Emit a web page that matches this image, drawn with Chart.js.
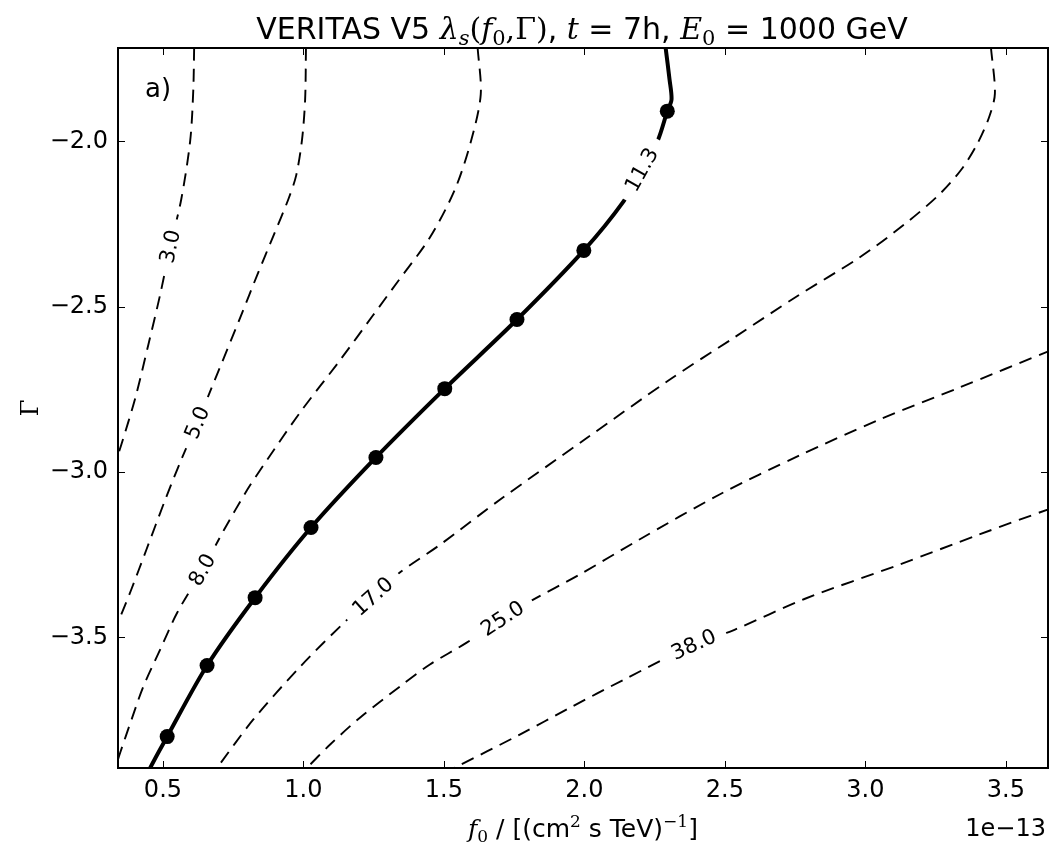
<!DOCTYPE html>
<html>
<head>
<meta charset="utf-8">
<script src="https://cdn.jsdelivr.net/npm/chart.js@4"></script>
<style>
  html, body { margin: 0; padding: 0; background: #fff; }
  canvas { display: block; }
</style>
</head>
<body>
<canvas id="c" width="1064" height="856"></canvas>
<script>
// contour lines of lambda_s in (f0 [1e-13], Gamma)
const lvl3 = [[0.611,-1.717],[0.608,-1.844],[0.597,-1.998],[0.565,-2.176],[0.526,-2.318],[0.490,-2.464],[0.448,-2.615],[0.402,-2.775],[0.352,-2.917],[0.338,-2.953]];
const lvl5 = [[1.009,-1.717],[1.006,-1.874],[0.995,-1.995],[0.974,-2.104],[0.946,-2.176],[0.892,-2.288],[0.839,-2.397],[0.775,-2.533],[0.697,-2.696],[0.622,-2.851],[0.565,-2.963],[0.508,-3.084],[0.441,-3.235],[0.387,-3.356],[0.341,-3.453],[0.327,-3.483]];
const lvl8 = [[1.620,-1.717],[1.631,-1.859],[1.596,-2.001],[1.539,-2.146],[1.450,-2.291],[1.336,-2.424],[1.247,-2.527],[1.132,-2.660],[0.988,-2.820],[0.871,-2.963],[0.800,-3.054],[0.718,-3.174],[0.640,-3.296],[0.551,-3.425],[0.490,-3.537],[0.430,-3.649],[0.388,-3.749],[0.348,-3.848],[0.334,-3.885]];
const lvl11 = [[2.289,-1.717],[2.303,-1.813],[2.310,-1.874],[2.295,-1.909],[2.261,-1.998],[2.204,-2.086],[2.140,-2.181],[1.998,-2.330],[1.760,-2.539],[1.503,-2.748],[1.258,-2.956],[1.027,-3.168],[0.828,-3.380],[0.657,-3.585],[0.515,-3.800],[0.455,-3.894],[0.445,-3.920]];
const lvl17 = [[3.447,-1.717],[3.461,-1.856],[3.440,-1.928],[3.397,-2.010],[3.341,-2.086],[3.263,-2.161],[3.138,-2.252],[2.978,-2.352],[2.754,-2.470],[2.534,-2.593],[2.303,-2.721],[2.001,-2.902],[1.699,-3.084],[1.486,-3.220],[1.343,-3.304],[1.247,-3.377],[1.155,-3.447],[0.988,-3.589],[0.821,-3.749],[0.693,-3.894],[0.675,-3.915]];
const lvl25 = [[3.660,-2.632],[3.334,-2.745],[3.049,-2.842],[2.765,-2.950],[2.481,-3.068],[2.196,-3.204],[1.983,-3.310],[1.805,-3.392],[1.709,-3.443],[1.581,-3.516],[1.450,-3.582],[1.343,-3.649],[1.201,-3.743],[1.095,-3.824],[1.013,-3.894],[0.988,-3.915]];
const lvl38 = [[3.660,-3.110],[3.405,-3.189],[3.121,-3.280],[2.783,-3.384],[2.534,-3.477],[2.389,-3.522],[2.140,-3.628],[1.948,-3.713],[1.770,-3.794],[1.539,-3.894],[1.503,-3.909]];

const contours = [lvl3, lvl5, lvl8, lvl11, lvl17, lvl25, lvl38];
const levelText = ['3.0', '5.0', '8.0', '11.3', '17.0', '25.0', '38.0'];
const labelIdx = [4, 9, 12, 5, 15, 8, 5];

// sampled points on the 11.3 line
const markF0 = [0.515, 0.657, 0.828, 1.027, 1.258, 1.503, 1.760, 1.998, 2.295];
const markGam = [-3.800, -3.585, -3.380, -3.168, -2.956, -2.748, -2.539, -2.330, -1.909];

const xTicks = [0.5, 1.0, 1.5, 2.0, 2.5, 3.0, 3.5];
const yTicks = [-3.5, -3.0, -2.5, -2.0];

const SANS = '"DejaVu Sans", sans-serif';
const SERIF = '"DejaVu Serif", serif';
const ink = '#000';

function richText(ctx, parts, x, y, align) {
  let w = 0;
  parts.forEach(p => { ctx.font = p.f; p.w = ctx.measureText(p.t).width; w += p.w; });
  let cx = align === 'center' ? x - w / 2 : align === 'right' ? x - w : x;
  ctx.textAlign = 'left';
  ctx.textBaseline = 'alphabetic';
  parts.forEach(p => { ctx.font = p.f; ctx.fillText(p.t, cx, y + (p.dy || 0)); cx += p.w; });
}

const contourLabels = {
  id: 'contourLabels',
  afterDatasetsDraw(chart) {
    const ctx = chart.ctx, xs = chart.scales.x, ys = chart.scales.y;
    const px = p => [xs.getPixelForValue(p[0]), ys.getPixelForValue(p[1])];
    ctx.save();
    ctx.font = '21px ' + SANS;
    contours.forEach((pts, i) => {
      const k = labelIdx[i];
      const [cx, cy] = px(pts[k]);
      const [ax, ay] = px(pts[k - 1]);
      const [bx, by] = px(pts[k + 1]);
      let ang = Math.atan2(by - ay, bx - ax);
      if (ang > Math.PI / 2) ang -= Math.PI;
      if (ang < -Math.PI / 2) ang += Math.PI;
      const w = ctx.measureText(levelText[i]).width;
      ctx.save();
      ctx.translate(cx, cy);
      ctx.rotate(ang);
      ctx.fillStyle = '#fff';
      ctx.fillRect(-w / 2 - 11, -10, w + 22, 20);
      ctx.fillStyle = ink;
      ctx.textAlign = 'center';
      ctx.textBaseline = 'middle';
      ctx.fillText(levelText[i], 0, 1);
      ctx.restore();
    });
    ctx.restore();
  }
};

const frame = {
  id: 'frame',
  afterDraw(chart) {
    const ctx = chart.ctx, xs = chart.scales.x, ys = chart.scales.y;
    const { left, right, top, bottom } = chart.chartArea;
    ctx.save();
    ctx.strokeStyle = ink;
    ctx.lineWidth = 1;
    ctx.beginPath();
    xTicks.forEach(v => {
      const p = Math.round(xs.getPixelForValue(v)) + 0.5;
      ctx.moveTo(p, bottom); ctx.lineTo(p, bottom - 7);
      ctx.moveTo(p, top); ctx.lineTo(p, top + 7);
    });
    yTicks.forEach(v => {
      const p = Math.round(ys.getPixelForValue(v)) + 0.5;
      ctx.moveTo(left, p); ctx.lineTo(left + 7, p);
      ctx.moveTo(right, p); ctx.lineTo(right - 7, p);
    });
    ctx.stroke();
    ctx.lineWidth = 2;
    ctx.strokeRect(left, top, right - left, bottom - top);

    ctx.fillStyle = ink;
    // title
    richText(ctx, [
      { t: 'VERITAS V5 ', f: '30px ' + SANS },
      { t: 'λ', f: 'italic 30px ' + SERIF },
      { t: 's', f: 'italic 21px ' + SERIF, dy: 6 },
      { t: '(', f: '30px ' + SERIF },
      { t: 'f', f: 'italic 30px ' + SERIF },
      { t: '0', f: '21px ' + SERIF, dy: 6 },
      { t: ',Γ)', f: '30px ' + SERIF },
      { t: ', ', f: '30px ' + SANS },
      { t: 't', f: 'italic 30px ' + SERIF },
      { t: ' = 7h, ', f: '30px ' + SANS },
      { t: 'E', f: 'italic 30px ' + SERIF },
      { t: '0', f: '21px ' + SERIF, dy: 6 },
      { t: ' = 1000 GeV', f: '30px ' + SANS }
    ], 582, 39, 'center');

    // x axis title
    richText(ctx, [
      { t: 'f', f: 'italic 25px ' + SERIF },
      { t: '0', f: '17px ' + SERIF, dy: 5 },
      { t: ' / [(cm', f: '25px ' + SANS },
      { t: '2', f: '17px ' + SERIF, dy: -10 },
      { t: ' s TeV)', f: '25px ' + SANS },
      { t: '−1', f: '17px ' + SERIF, dy: -10 },
      { t: ']', f: '25px ' + SANS }
    ], 583, 837, 'center');

    // offset text
    ctx.font = '24px ' + SANS;
    ctx.textAlign = 'right';
    ctx.textBaseline = 'alphabetic';
    ctx.fillText('1e\u221213', right - 2, 836);

    // panel tag
    ctx.textAlign = 'left';
    ctx.font = '26px ' + SANS;
    ctx.fillText('a)', 145, 97);

    // y axis title
    ctx.save();
    ctx.translate(38, (top + bottom) / 2);
    ctx.rotate(-Math.PI / 2);
    ctx.textAlign = 'center';
    ctx.font = '24px ' + SERIF;
    ctx.fillText('Γ', 0, 0);
    ctx.restore();
    ctx.restore();
  }
};

const lineSets = contours.map((pts, i) => ({
  data: pts.map(p => ({ x: p[0], y: p[1] })),
  showLine: true,
  borderColor: ink,
  borderWidth: i === 3 ? 4 : 1.9,
  borderDash: i === 3 ? [] : [13, 8],
  pointRadius: 0,
  tension: 0.3,
  fill: false
}));

const markerSet = {
  data: markF0.map((f, i) => ({ x: f, y: markGam[i] })),
  showLine: false,
  pointRadius: 7.5,
  pointBackgroundColor: ink,
  pointBorderColor: ink,
  pointBorderWidth: 0
};

const tickFmt = v => (v < 0 ? '\u2212' : '') + Math.abs(v).toFixed(1);

new Chart(document.getElementById('c'), {
  type: 'scatter',
  data: { datasets: [...lineSets, markerSet] },
  options: {
    responsive: false,
    devicePixelRatio: 1,
    animation: false,
    layout: { padding: { top: 48, right: 16, left: 0, bottom: 0 } },
    plugins: { legend: { display: false }, tooltip: { enabled: false }, title: { display: false } },
    scales: {
      x: {
        type: 'linear',
        min: 0.34,
        max: 3.65,
        grid: { display: false, drawTicks: false },
        border: { display: false },
        ticks: {
          stepSize: 0.5,
          includeBounds: false,
          maxRotation: 0,
          padding: 8,
          color: ink,
          font: { family: SANS, size: 24 },
          callback: tickFmt
        },
        afterFit: s => { s.height = 88; }
      },
      y: {
        type: 'linear',
        min: -3.895,
        max: -1.718,
        grid: { display: false, drawTicks: false },
        border: { display: false },
        ticks: {
          stepSize: 0.5,
          includeBounds: false,
          padding: 10,
          color: ink,
          font: { family: SANS, size: 24 },
          callback: tickFmt
        },
        afterFit: s => { s.width = 118; }
      }
    }
  },
  plugins: [contourLabels, frame]
});
</script>
</body>
</html>
